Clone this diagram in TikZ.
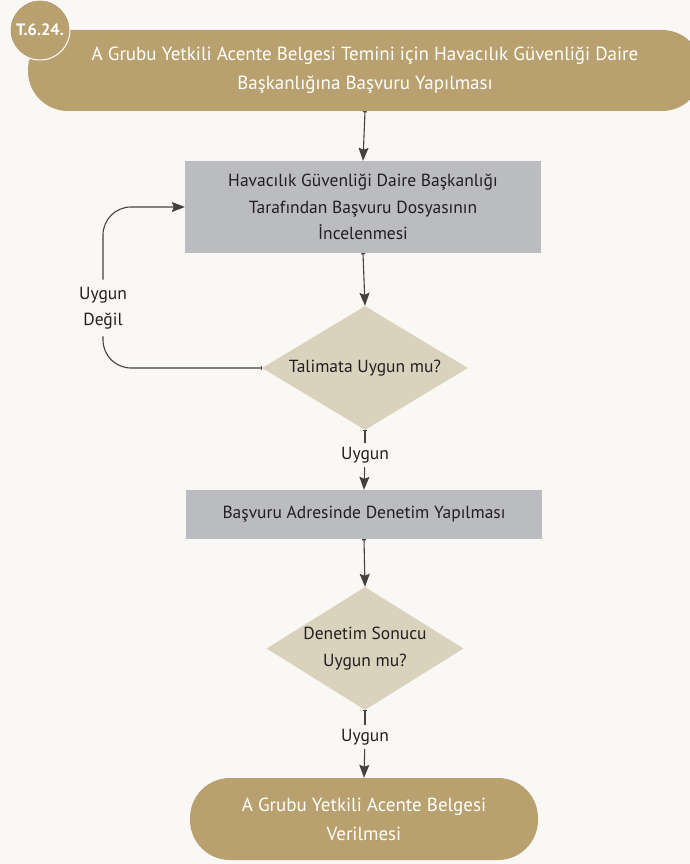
\documentclass[tikz,border=0pt]{standalone}
\usepackage{fontspec}
\setmainfont{PT Sans}
\usetikzlibrary{shapes.geometric,arrows.meta}
\definecolor{paper}{HTML}{FAF8F4}
\definecolor{gold}{HTML}{B9A06F}
\definecolor{steel}{HTML}{BBBCBF}
\definecolor{sand}{HTML}{D9D3BE}
\definecolor{ink}{HTML}{231F20}
\tikzset{
  txt/.style = {font=\fontsize{17.5}{26.5}\selectfont},
  box/.style = {txt, fill=steel, text=ink, align=center, inner sep=0pt, minimum width=356pt},
  decision/.style = {txt, diamond, fill=sand, text=ink, align=center, inner sep=0pt},
  terminal/.style = {rectangle, rounded corners=40pt, fill=gold, text=white, align=center, inner sep=0pt,
                     font=\fontsize{19}{29}\selectfont},
  answer/.style = {txt, text=ink, align=center, inner sep=4pt},
  line/.style = {draw=ink!85, line width=1.1pt, {Bar[width=4pt]}-},
  flow/.style = {line, {Bar[width=4pt]}-{Stealth[length=13pt,width=10pt,inset=2pt]}},
  arrow/.style = {line, -{Stealth[length=13pt,width=10pt,inset=2pt]}}
}
\begin{document}
\begin{tikzpicture}[x=1pt, y=-1pt]
\useasboundingbox (0,0) rectangle (690,864);
\clip (0,0) rectangle (690,864);
\fill[paper] (0,0) rectangle (690,864);

\node[terminal, minimum width=674pt, minimum height=81pt] (apply) at (365,70.5)
  {A Grubu Yetkili Acente Belgesi Temini için Havacılık Güvenliği Daire\\Başkanlığına Başvuru Yapılması};
\node[circle, fill=gold, draw=white, line width=1pt, minimum size=60pt, inner sep=0pt, text=white,
  font=\fontsize{16.5}{16.5}\selectfont\bfseries] (code) at (40,30) {T.6.24.};

\node[box, minimum height=92pt] (review) at (363,207)
  {Havacılık Güvenliği Daire Başkanlığı\\Tarafından Başvuru Dosyasının\\İncelenmesi};
\node[decision, shape aspect=1.66, minimum width=206pt, minimum height=124pt] (check) at (365,368)
  {Talimata Uygun mu?};
\node[answer] (ok1) at (365,455) {Uygun};
\node[box, minimum height=49pt] (visit) at (364,514.5) {Başvuru Adresinde Denetim Yapılması};
\node[decision, shape aspect=1.6, minimum width=197pt, minimum height=123pt] (audit) at (365,648.5)
  {Denetim Sonucu\\Uygun mu?};
\node[answer] (ok2) at (365,737) {Uygun};
\node[terminal, minimum width=348pt, minimum height=82pt] (grant) at (364,819)
  {A Grubu Yetkili Acente Belgesi\\Verilmesi};
\node[answer, inner sep=7pt] (no) at (103,308) {Uygun\\Değil};

\draw[flow] (apply.south) -- (review.north);
\draw[flow] (review.south) -- (check.north);
\draw[line] (check.south) -- (ok1);
\draw[arrow] (ok1) -- (visit.north);
\draw[flow] (visit.south) -- (audit.north);
\draw[line] (audit.south) -- (ok2);
\draw[arrow] (ok2) -- (grant.north);
\draw[line, rounded corners=28pt] (check.west) -| (no.south);
\draw[arrow, rounded corners=28pt] (no.north) |- (review.west);
\end{tikzpicture}
\end{document}
